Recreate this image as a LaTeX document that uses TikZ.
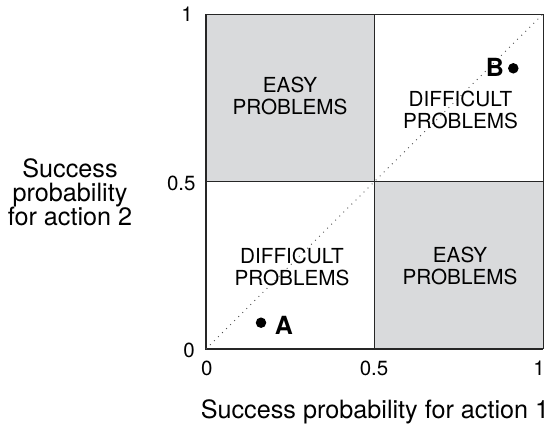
\documentclass[tikz,border=0pt]{standalone}
\usepackage{fontspec}
\setmainfont{TeX Gyre Heros}
\definecolor{quadgray}{RGB}{217,218,220}
\begin{document}
\begin{tikzpicture}[x=1pt,y=-1pt,
  lbl/.style={align=center, font=\fontsize{20.7}{21.5}\selectfont, inner sep=0},
  ticklbl/.style={font=\fontsize{20.5}{24}\selectfont, inner sep=0},
  axlab/.style={align=center, font=\fontsize{25.2}{24}\selectfont, inner sep=0},
  ptlab/.style={font=\fontsize{25}{25}\selectfont\bfseries, inner sep=0},
  ptdot/.style={circle, fill=black, inner sep=0, minimum size=10.5pt},
  thinline/.style={line width=0.8pt, black!85},
  axisline/.style={line width=1.4pt, black!85},
  diag/.style={line width=0.9pt, black!70, dash pattern=on 0.9pt off 4.8pt}]
\useasboundingbox (0,0) rectangle (548,423);
\coordinate (LL) at (206,349);
\coordinate (UL) at (206,14);
\coordinate (UR) at (543,14);
\coordinate (LR) at (543,349);
\coordinate (M) at (374.5,181.5);
\coordinate (MT) at (374.5,14);
\coordinate (MB) at (374.5,349);
\coordinate (ML) at (206,181.5);
\coordinate (MR) at (543,181.5);
% shaded quadrants
\fill[quadgray] (UL) rectangle (M);
\fill[quadgray] (M) rectangle (LR);
% grid lines
\draw[thinline] (UL) -- (UR) -- (LR);
\draw[thinline] (MT) -- (MB);
\draw[thinline] (ML) -- (MR);
\draw[axisline] (UL) -- (LL) -- (LR);
% diagonal
\draw[diag] (LL) -- (UR);
% quadrant labels
\node[lbl] (tl) at (290,96) {EASY\\PROBLEMS};
\node[lbl] (tr) at (460.5,110) {DIFFICULT\\PROBLEMS};
\node[lbl] (bl) at (292,267) {DIFFICULT\\PROBLEMS};
\node[lbl] (br) at (460,266) {EASY\\PROBLEMS};
% points
\node[ptdot] (dotB) at (513.3,68.3) {};
\node[ptlab] (labB) at (495,67.5) {B};
\node[ptdot] (dotA) at (261,322.7) {};
\node[ptlab] (labA) at (283.8,325) {A};
% ticks
\node[ticklbl] (y1) at (187,14) {1};
\node[ticklbl] (y05) at (181.3,183.3) {0.5};
\node[ticklbl] (y0) at (189,350) {0};
\node[ticklbl] (x0) at (206.7,368) {0};
\node[ticklbl] (x05) at (374,368) {0.5};
\node[ticklbl] (x1) at (539,368) {1};
% axis labels
\node[axlab, anchor=base] (xlab) at (375,418.3) {Success probability for action 1};
\node[axlab] (ylab) at (70,192.3) {Success\\probability\\for action 2};
\end{tikzpicture}
\end{document}
